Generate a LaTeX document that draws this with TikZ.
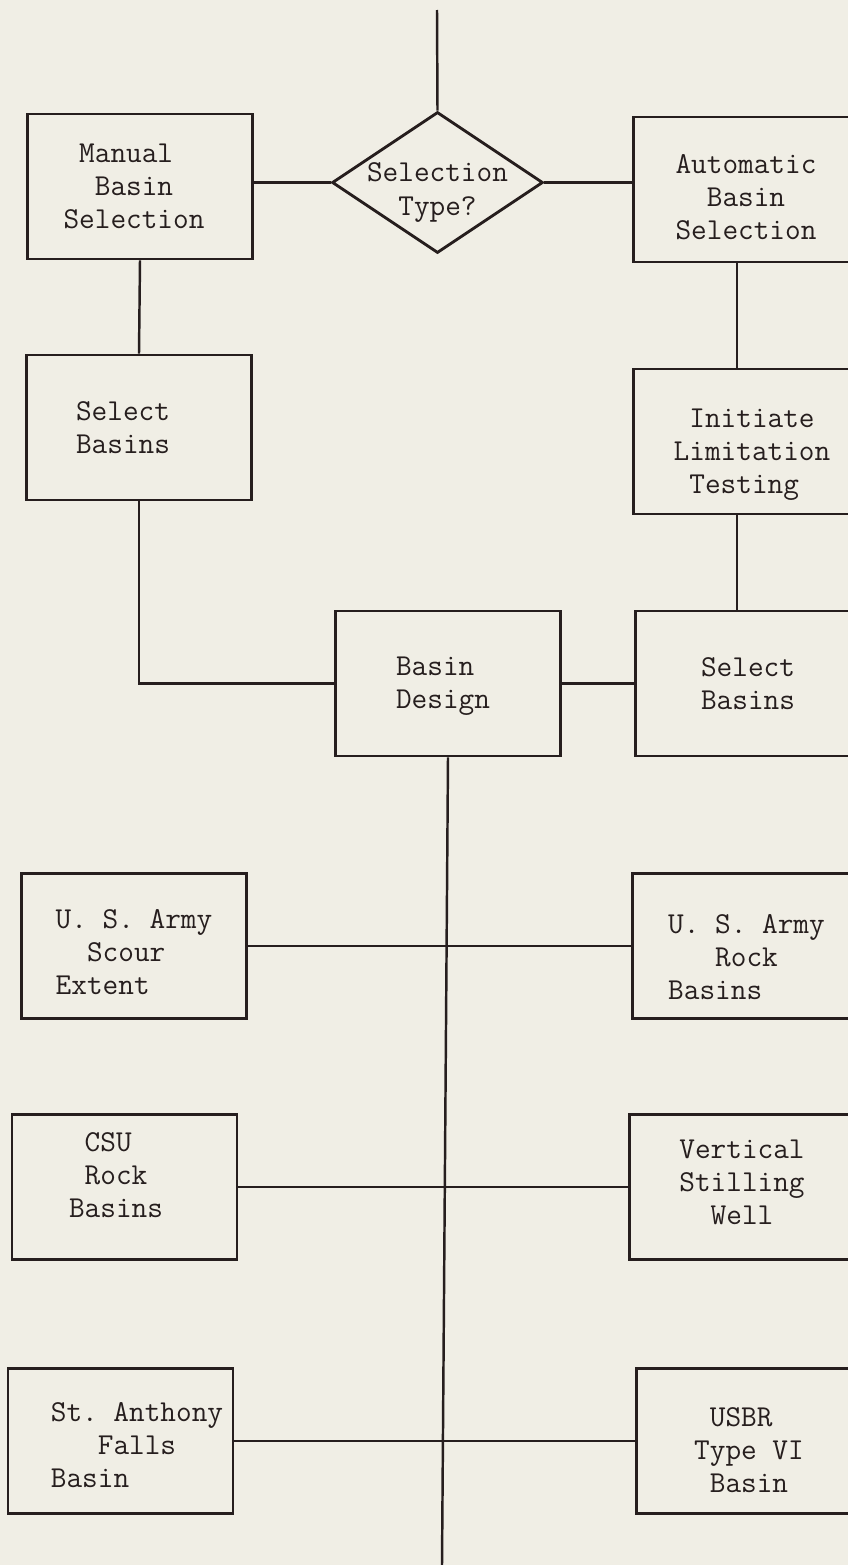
\documentclass[tikz,border=0pt]{standalone}
\usepackage{tikz}
\usetikzlibrary{shapes.geometric, positioning}
\definecolor{paper}{RGB}{240,238,229}
\definecolor{ink}{RGB}{38,30,30}

\begin{document}
\begin{tikzpicture}[
  x=0.02cm, y=-0.02cm,
  font=\ttfamily\fontsize{17.3}{18.8}\selectfont\frenchspacing,
  box/.style={rectangle, draw=ink, line width=1.6pt,
              minimum width=4.5cm, minimum height=2.9cm, inner sep=0pt},
  choice/.style={diamond, draw=ink, line width=1.6pt, aspect=1.5, inner sep=0pt,
                 minimum width=4.22cm, minimum height=2.82cm},
  txt/.style={text=ink, align=left, inner sep=0pt},
  link/.style={draw=ink, line width=1.4pt},
]
  % --- page ---
  \fill[paper] (0,0) rectangle (848,1565);
  \clip (0,0) rectangle (848,1565);

  % --- selection type ---
  \coordinate (top) at (437,10);
  \node[choice, label={[txt, align=center, yshift=-0.2cm]center:{Selection\\Type?}}] (type) at (437.5,182.5) {};
  \node[box, label={[txt, xshift=-0.12cm]center:{~Manual\\~~Basin\\Selection}}] (manual) at (140,186.5) {};
  \node[box, label={[txt, yshift=-0.15cm]center:{Automatic\\~~Basin\\Selection}}] (auto) at (746,189.5) {};

  % --- manual branch ---
  \node[box, label={[txt, xshift=-0.32cm]center:{Select\\Basins}}] (selL) at (139,427.5) {};

  % --- automatic branch ---
  \node[box, label={[txt, xshift=0.12cm, yshift=-0.26cm]center:{~Initiate\\Limitation\\~Testing}}] (init) at (746,441.5) {};
  \node[box, label={[txt]center:{Select\\Basins}}] (selR) at (748,683.5) {};
  \coordinate (rx) at (737,0);

  % --- design ---
  \node[box, label={[txt, xshift=-0.1cm, yshift=-0.06cm]center:{Basin\\Design}}] (design) at (448,683.5) {};
  \coordinate (bot) at (442,1565);

  % --- basin types ---
  \node[box, label={[txt, yshift=-0.12cm]center:{U. S. Army\\~~Scour\\Extent}}] (scour) at (134,946) {};
  \node[box, label={[txt, xshift=0.03cm, yshift=-0.22cm]center:{U. S. Army\\~~~Rock\\Basins}}] (rock) at (745,946) {};
  \node[box, label={[txt, xshift=-0.17cm, yshift=0.24cm]center:{~CSU\\~Rock\\Basins}}] (csu) at (124.5,1187) {};
  \node[box, label={[txt, yshift=0.1cm]center:{Vertical\\Stilling\\~~Well}}] (vert) at (742,1187) {};
  \node[box, label={[txt, xshift=0.33cm, yshift=-0.08cm]center:{St. Anthony\\~~~Falls\\Basin}}] (saf) at (120.5,1441) {};
  \node[box, label={[txt, yshift=-0.18cm]center:{~USBR\\Type VI\\~Basin}}] (usbr) at (749,1441) {};

  % connectors
  \draw[link] (top) -- (type.north);
  \draw[link] (type.west) -- (type.west -| manual.east);
  \draw[link] (type.east) -- (type.east -| auto.west);
  \draw[link] (manual.south) -- (selL.north);
  \draw[link] (selL.south) |- (design.west);
  \draw[link] (auto.south -| rx) -- (init.north -| rx);
  \draw[link] (init.south -| rx) -- (selR.north -| rx);
  \draw[link] (design.east) -- (selR.west);
  \draw[link] (design.south) -- (bot);
  \draw[link] (scour.east) -- (rock.west);
  \draw[link] (csu.east) -- (vert.west);
  \draw[link] (saf.east) -- (usbr.west);
\end{tikzpicture}
\end{document}
